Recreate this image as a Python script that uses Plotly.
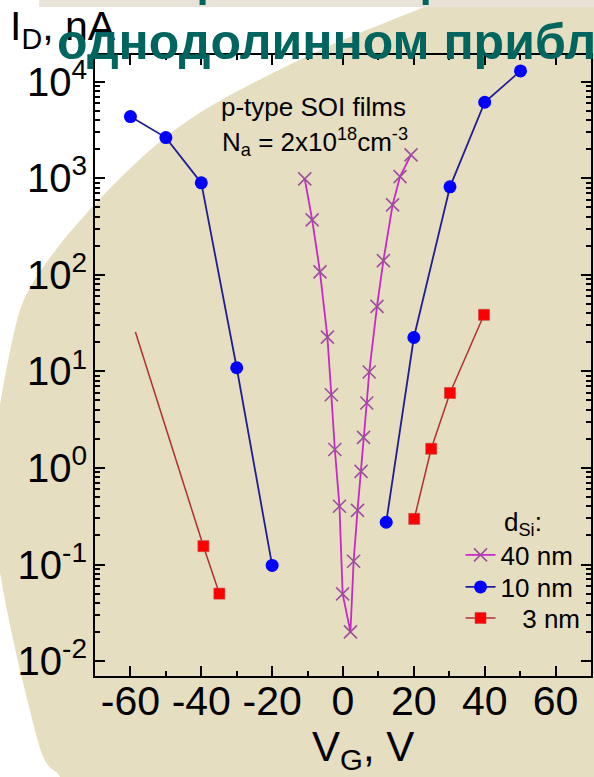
import plotly.graph_objects as go

# ---------------- data ----------------
v40 = [-10.8, -8.7, -6.5, -4.4, -3.3, -2.3, -1.0, -0.1, 2.1, 3.0, 4.1, 5.1, 5.8, 6.7, 7.4, 9.6, 11.4, 14.0, 16.1, 19.2]
i40 = [984, 370, 107, 22.6, 5.73, 1.55, 0.401, 0.0497, 0.0201, 0.108, 0.364, 0.922, 2.07, 4.70, 9.84, 47.0, 140, 529, 1038, 1742]

v10 = [-60, -50, -40, -30, -20, None, 12.2, 20, 30.2, 40, 50.1]
i10 = [4340, 2630, 894, 10.9, 0.098, None, 0.274, 22.4, 813, 6110, 12900]

# 3 nm: a line-only start point, then the measured squares
v3_line = [-58.6, -39.4]
i3_line = [25.5, 0.155]
v3 = [-39.4, -34.9, None, 20.1, 24.9, 30.2, 39.8]
i3 = [0.155, 0.050, None, 0.297, 1.58, 5.97, 38.5]

x_tickvals = [-60, -40, -20, 0, 20, 40, 60]
x_ticktext = ["-60", "-40", "-20", "0", "20", "40", "60"]
y_tickvals = [0.01, 0.1, 1, 10, 100, 1000, 10000]
y_ticktext = ["10<sup>-2</sup>", "10<sup>-1</sup>", "10<sup>0</sup>", "10<sup>1</sup>",
              "10<sup>2</sup>", "10<sup>3</sup>", "10<sup>4</sup>"]
y_minor = [m * d for d in [0.01, 0.1, 1, 10, 100, 1000, 10000] for m in range(2, 10)]

legend_names = ["40 nm", "10 nm", "\u2007 3 nm"]

# ---------------- geometry helpers ----------------
W, H = 594, 777
ML, MR, MT, MB = 95, 1, 55, 101
PW, PH = W - ML - MR, H - MT - MB


def px(x):
    return (x - ML) / PW


def py(y):
    return (MT + PH - y) / PH


FONT = "Liberation Sans, Arial, sans-serif"
BEIGE = "#e6dec1"
TEAL = "#00655f"
RED_LINE = "#b03030"

# background blob boundary (pixel points), smoothed with Catmull-Rom
bpts = [(520, -33), (430, 5), (300, 60), (166, 137), (48, 260), (10, 350),
        (-7, 520), (36, 735), (60, 777), (78, 810)]
path = "M {:.4f},{:.4f}".format(px(bpts[0][0]), py(bpts[0][1]))
for k in range(len(bpts) - 1):
    p0 = bpts[k - 1] if k > 0 else bpts[k]
    p1 = bpts[k]
    p2 = bpts[k + 1]
    p3 = bpts[k + 2] if k + 2 < len(bpts) else bpts[k + 1]
    c1 = (p1[0] + (p2[0] - p0[0]) / 6, p1[1] + (p2[1] - p0[1]) / 6)
    c2 = (p2[0] - (p3[0] - p1[0]) / 6, p2[1] - (p3[1] - p1[1]) / 6)
    path += " C {:.4f},{:.4f} {:.4f},{:.4f} {:.4f},{:.4f}".format(
        px(c1[0]), py(c1[1]), px(c2[0]), py(c2[1]), px(p2[0]), py(p2[1]))
path += " L {:.4f},{:.4f} L {:.4f},{:.4f} Z".format(px(700), py(810), px(700), py(-40))

fig = go.Figure()

fig.add_trace(go.Scatter(
    x=v40, y=i40, mode="lines+markers", name=legend_names[0], legend="legend",
    line=dict(color="#c828c8", width=1.8),
    marker=dict(symbol="x-thin", size=13, color="#9c509c",
                line=dict(color="#9c509c", width=1.6)),
))
fig.add_trace(go.Scatter(
    x=v10, y=i10, mode="lines+markers", name=legend_names[1], legend="legend2",
    connectgaps=False,
    line=dict(color="#1e1e96", width=1.8),
    marker=dict(symbol="circle", size=13, color="#0000ff"),
))
fig.add_trace(go.Scatter(
    x=v3_line, y=i3_line, mode="lines", showlegend=False, hoverinfo="skip",
    line=dict(color=RED_LINE, width=1.5),
))
fig.add_trace(go.Scatter(
    x=v3, y=i3, mode="lines+markers", name=legend_names[2], legend="legend3",
    connectgaps=False,
    line=dict(color=RED_LINE, width=1.5),
    marker=dict(symbol="square", size=11, color="#ff0000",
                line=dict(color="#c84040", width=0.6)),
))

shapes = [
    dict(type="path", path=path, xref="paper", yref="paper",
         fillcolor=BEIGE, line=dict(width=0), layer="below"),
    dict(type="rect", xref="paper", yref="paper", x0=px(39), x1=px(600),
         y0=py(7), y1=py(-2), fillcolor="#e9e2d6", line=dict(width=0), layer="below"),
    dict(type="rect", xref="paper", yref="paper", x0=px(200), x1=px(206),
         y0=py(5), y1=py(-2), fillcolor=TEAL, line=dict(width=0), layer="below"),
    dict(type="rect", xref="paper", yref="paper", x0=px(424), x1=px(430),
         y0=py(5), y1=py(-2), fillcolor=TEAL, line=dict(width=0), layer="below"),
]


def ann(text, x, y, size, color="black", xanchor="left", yanchor="top"):
    return dict(text=text, x=px(x), y=py(y), xref="paper", yref="paper",
                xanchor=xanchor, yanchor=yanchor, showarrow=False,
                font=dict(family=FONT, size=size, color=color))


annotations = [
    ann("I<sub>D</sub>, nA", 8, 1, 41),
    ann("V<sub>G</sub>, V", 311, 721, 42),
    ann("p-type SOI films", 220, 90, 26),
    ann("N<sub>a</sub> = 2x10<sup>18</sup>cm<sup>-3</sup>", 221, 122, 26),
    ann("d<sub>Si</sub>:", 504, 505, 26),
    ann("<b>однодолинном приближении</b>", 55, 12, 50, TEAL),
]

axis_common = dict(
    showline=True, linecolor="black", linewidth=2, mirror="allticks",
    ticks="inside", ticklen=10, tickwidth=2, tickcolor="black",
    showgrid=False, zeroline=False, tickangle=0,
)

fig.update_xaxes(
    range=[-70, 70], tickmode="array", tickvals=x_tickvals, ticktext=x_ticktext,
    tickfont=dict(family=FONT, size=41, color="black"), ticklabelstandoff=-12,
    minor=dict(dtick=10, tick0=0, ticks="inside", ticklen=5, tickwidth=2,
               tickcolor="black", showgrid=False),
    **axis_common,
)
fig.update_yaxes(
    type="log", range=[-2.154, 4.275], tickmode="array",
    tickvals=y_tickvals, ticktext=y_ticktext,
    tickfont=dict(family=FONT, size=40, color="black"), ticklabelstandoff=-2,
    minor=dict(tickmode="array", tickvals=y_minor, ticks="inside", ticklen=5,
               tickwidth=1.5, tickcolor="black", showgrid=False),
    **axis_common,
)

legend_common = dict(xanchor="left", yanchor="middle", bgcolor="rgba(0,0,0,0)",
                     borderwidth=0, font=dict(family=FONT, size=26, color="black"))

fig.update_layout(
    width=W, height=H,
    margin=dict(l=ML, r=MR, t=MT, b=MB, pad=0),
    paper_bgcolor="white", plot_bgcolor="rgba(0,0,0,0)",
    font=dict(family=FONT, color="black"),
    shapes=shapes, annotations=annotations,
    showlegend=True,
    legend=dict(x=px(462), y=py(555), **legend_common),
    legend2=dict(x=px(462), y=py(587), **legend_common),
    legend3=dict(x=px(462), y=py(618), **legend_common),
)

fig.write_html("out.html")
